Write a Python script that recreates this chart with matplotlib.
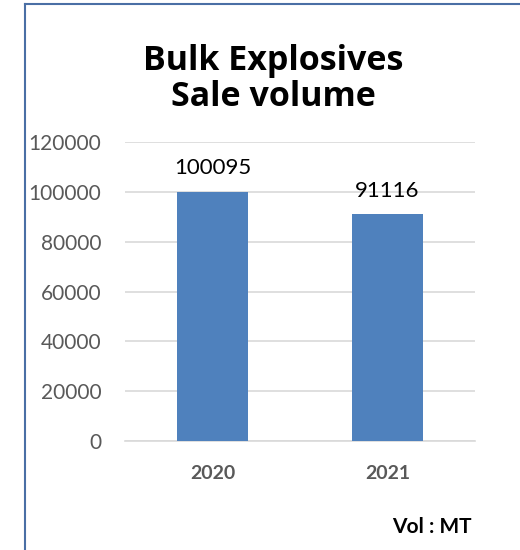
import matplotlib
matplotlib.use("Agg")
import matplotlib.pyplot as plt
from matplotlib.lines import Line2D

years = ["2020", "2021"]
volumes = [100095, 91116]
yticks = [0, 20000, 40000, 60000, 80000, 100000, 120000]
title = "Bulk Explosives\nSale volume"
unit_note = "Vol : MT"

plt.rcParams['font.family'] = ['Lato', 'DejaVu Sans']

fig = plt.figure(figsize=(5.2, 5.5), dpi=100)
ax = fig.add_axes([125/520, 1 - 441/550, 350/520, 299/550])

x = range(len(years))
ax.bar(x, volumes, width=0.41, color="#4F81BD", zorder=3)
for xi, v in zip(x, volumes):
    ax.text(xi, v + 5300, str(v), ha="center", va="bottom", fontsize=16, color="black", zorder=4)

ax.set_xlim(-0.5, 1.5)
ax.set_ylim(0, 120000)
ax.set_yticks(yticks)
ax.set_yticklabels([str(t) for t in yticks], fontsize=15, color="#595959")
ax.set_xticks(list(x))
ax.set_xticklabels(years, fontsize=14, fontweight="bold", color="#595959")
ax.tick_params(axis="both", length=0)
ax.tick_params(axis="y", pad=17)
ax.tick_params(axis="x", pad=17)
ax.grid(axis="y", color="#D9D9D9", linewidth=1.2, zorder=0)
for s in ["top", "right", "left"]:
    ax.spines[s].set_visible(False)
ax.spines["bottom"].set_color("#D9D9D9")
ax.spines["bottom"].set_linewidth(1.2)

fig.text(273/520, 1 - 79/550, title, ha="center", va="center", fontsize=24.5,
         fontweight="bold", color="black", linespacing=1.05, family=["Open Sans", "DejaVu Sans"])
fig.text(472/520, 1 - 527/550, unit_note, ha="right", va="center", fontsize=15,
         fontweight="bold", color="black")

fig.add_artist(Line2D([25/520, 25/520], [0, 1 - 4/550], transform=fig.transFigure,
                      color="#4A6FA5", linewidth=1.5))
fig.add_artist(Line2D([25/520, 1], [1 - 4/550, 1 - 4/550], transform=fig.transFigure,
                      color="#4A6FA5", linewidth=1.5))

fig.savefig("out.png", dpi=100)
